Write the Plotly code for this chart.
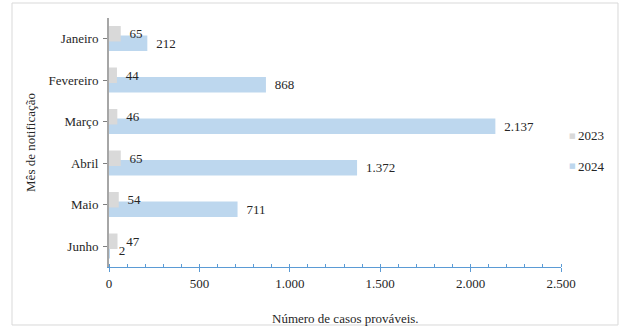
import plotly.graph_objects as go

# Casos prováveis por mês de notificação
meses = ["Janeiro", "Fevereiro", "Março", "Abril", "Maio", "Junho"]
casos_2023 = [65, 44, 46, 65, 54, 47]
casos_2024 = [212, 868, 2137, 1372, 711, 2]
anos = ["2023", "2024"]
cores = ["#d9d9d9", "#bdd7ee"]
x_ticks = [0, 500, 1000, 1500, 2000, 2500]
titulo_x = "Número de casos prováveis."
titulo_y = "Mês de notificação"

FONT = "Liberation Serif"
TXT = "#262626"
LABEL_TPL = "\u00a0\u2009%{x:,d}"

fig = go.Figure()

# 2024 drawn first so the 2023 bars sit on top where they overlap
fig.add_trace(go.Bar(
    y=meses, x=casos_2024, orientation="h", name=anos[1],
    marker=dict(color=cores[1], line=dict(width=0)),
    width=0.373, offset=-0.078,
    texttemplate=LABEL_TPL, textposition="outside", cliponaxis=False,
    textfont=dict(family=FONT, size=13, color=TXT),
    showlegend=False,
))
fig.add_trace(go.Bar(
    y=meses, x=casos_2023, orientation="h", name=anos[0],
    marker=dict(color=cores[0], line=dict(width=0)),
    width=0.373, offset=-0.307,
    texttemplate=LABEL_TPL, textposition="outside", cliponaxis=False,
    textfont=dict(family=FONT, size=13, color=TXT),
    showlegend=False,
))

# Legend entries: small coloured square followed by the year
legend_y = [0.528, 0.404]
annotations = []
for ano, cor, ly in zip(anos, cores, legend_y):
    annotations.append(dict(
        xref="paper", yref="paper", x=1.0254, y=ly, xanchor="center", yanchor="middle",
        text="\u25a0", showarrow=False,
        font=dict(family="DejaVu Sans", size=7, color=cor),
    ))
    annotations.append(dict(
        xref="paper", yref="paper", x=1.0322, y=ly, xanchor="left", yanchor="middle",
        text=ano, showarrow=False,
        font=dict(family=FONT, size=13, color=TXT),
    ))

# Value-axis title, set slightly right of the plot centre
annotations.append(dict(
    xref="paper", yref="paper", x=0.524, y=-0.205, xanchor="center", yanchor="middle",
    text=titulo_x, showarrow=False,
    font=dict(family=FONT, size=13, color=TXT),
))

fig.update_layout(
    width=621, height=328,
    margin=dict(l=109, r=60, t=18, b=61),
    paper_bgcolor="white", plot_bgcolor="white",
    barmode="overlay",
    separators=",.",
    font=dict(family=FONT, size=13, color=TXT),
    showlegend=False,
    annotations=annotations,
    shapes=[dict(
        type="rect", xref="paper", yref="paper",
        x0=-0.2146, x1=1.1261, y0=-0.2329, y1=1.0602,
        line=dict(color="#d9d9d9", width=1), fillcolor="rgba(0,0,0,0)", layer="below",
    )],
    xaxis=dict(
        range=[0, 2500], tickvals=x_ticks, tickformat=",d", automargin=False,
        showgrid=False, zeroline=False,
        showline=True, linecolor="#5b9bd5", linewidth=1,
        ticks="outside", ticklen=4, tickcolor="#5b9bd5", tickwidth=1,
        minor=dict(dtick=100, ticks="inside", ticklen=3, tickcolor="#5b9bd5", tickwidth=1),
        tickfont=dict(family=FONT, size=13, color=TXT),
    ),
    xaxis2=dict(
        range=[0, 2500], overlaying="x", anchor="y", side="bottom",
        tickvals=x_ticks, showticklabels=False, showgrid=False, zeroline=False,
        showline=False, ticks="inside", ticklen=4, tickcolor="#5b9bd5", tickwidth=1,
    ),
    yaxis=dict(
        type="category", categoryorder="array", categoryarray=meses,
        range=[5.5, -0.5], automargin=False,
        showgrid=False, zeroline=False,
        showline=True, linecolor="#a6a6a6", linewidth=2,
        ticks="outside", ticklen=4, tickcolor="#7f7f7f", tickwidth=1,
        ticklabelstandoff=2,
        tickfont=dict(family=FONT, size=13, color=TXT),
        title=dict(text=titulo_y, standoff=10,
                   font=dict(family=FONT, size=13, color=TXT)),
    ),
)

fig.write_html("out.html")
